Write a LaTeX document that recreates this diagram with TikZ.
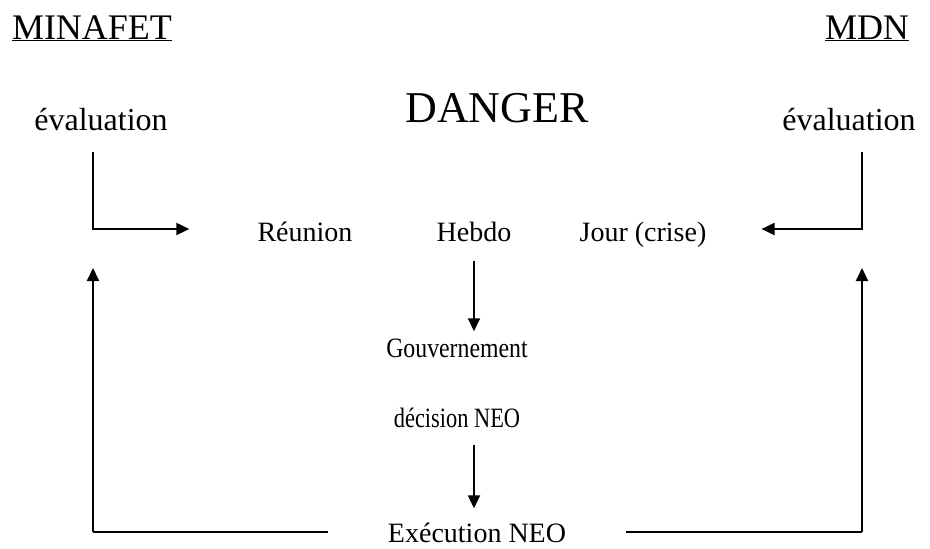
\documentclass[tikz,border=0pt]{standalone}
\usepackage{fontspec}
\setmainfont{Liberation Serif}
\newfontfamily\narrowfont[FakeStretch=0.85]{Liberation Serif}
\usetikzlibrary{arrows.meta, positioning}

\begin{document}
\begin{tikzpicture}[
    x=1pt, y=-1pt,
    title/.style={inner sep=0pt, anchor=base, font=\fontsize{36}{38}\selectfont},
    lbl/.style={inner sep=0pt, anchor=base, font=\fontsize{28}{30}\selectfont},
    narrowlbl/.style={lbl, font=\fontsize{28}{30}\narrowfont},
    evalbox/.style={inner sep=0pt, anchor=base, font=\fontsize{32}{34}\selectfont},
    arrow/.style={-{Triangle[length=13pt, width=12pt]}, line width=2pt},
    link/.style={line width=2pt}
]
\useasboundingbox (0,0) rectangle (930,549);

\node[title] (minafet) at (92,39) {\underline{MINAFET}};
\node[title] (mdn) at (867,39) {\underline{MDN}};

\node[evalbox] (evall) at (101,130) {évaluation};
\node[font=\fontsize{44}{46}\selectfont, inner sep=0pt, anchor=base] (danger) at (497,122) {DANGER};
\node[evalbox] (evalr) at (849,130) {évaluation};

\node[lbl] (reunion) at (305,241) {Réunion};
\node[lbl] (hebdo) at (474,241) {Hebdo};
\node[lbl] (jour) at (643,241) {Jour (crise)};

\node[narrowlbl] (gouv) at (457,357) {Gouvernement};
\node[lbl, font=\fontsize{28}{30}\narrowfont\addfontfeature{FakeStretch=0.8}] (decision) at (457,427) {décision NEO};
\node[lbl] (exec) at (477,542) {Exécution NEO};

\coordinate (lcorner) at (93,229);
\coordinate (rcorner) at (862,229);
\coordinate (lbottom) at (93,532);
\coordinate (rbottom) at (862,532);
\coordinate (ltop) at (93,268);
\coordinate (rtop) at (862,268);

% evaluations vers la reunion
\draw[arrow, shorten <=21pt, shorten >=68pt] (evall.south -| lcorner) -- (lcorner) -- (lcorner -| reunion.west);
\draw[arrow, shorten <=21pt, shorten >=55pt] (evalr.south -| rcorner) -- (rcorner) -- (rcorner -| jour.east);

% chaine de decision
\draw[arrow, shorten <=20pt, shorten >=7pt] (hebdo.south) -- (gouv.north -| hebdo.south);
\draw[arrow, shorten <=18pt, shorten >=14pt] (decision.south -| hebdo.south) -- (exec.north -| hebdo.south);

% retour d'execution
\draw[link, shorten <=60pt] (exec.west |- lbottom) -- (lbottom);
\draw[arrow] (lbottom) -- (ltop);
\draw[link, shorten <=60pt] (exec.east |- rbottom) -- (rbottom);
\draw[arrow] (rbottom) -- (rtop);

\end{tikzpicture}
\end{document}
